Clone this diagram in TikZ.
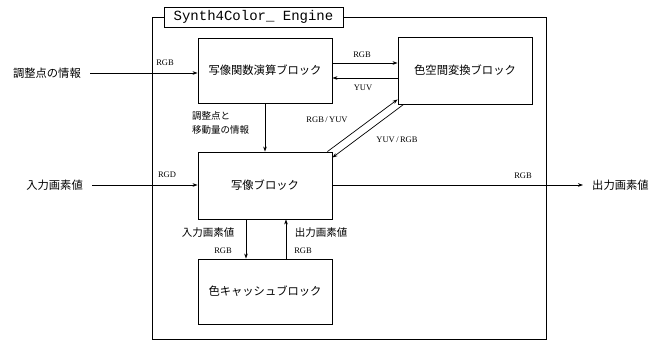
\documentclass[tikz,border=0pt]{standalone}
\usepackage{fontspec}
\setmainfont{Liberation Serif}
\setmonofont{Liberation Mono}
\newfontfamily\jp{Noto Sans CJK JP}
\usepackage{tikz}
\usetikzlibrary{arrows.meta, positioning, calc}

\begin{document}
\begin{tikzpicture}[x=1pt, y=-1pt, >={Stealth[length=5pt,width=3.6pt]},
    block/.style={draw, line width=0.9pt, rectangle, minimum width=134pt, font=\jp\fontsize{11.3}{12}\selectfont},
    jtext/.style={inner sep=0pt, font=\jp\fontsize{11.3}{12}\selectfont},
    sig/.style={inner sep=0pt, font=\fontsize{8.5}{9}\selectfont},
    flow/.style={->, line width=0.7pt}]
    \useasboundingbox (0,0) rectangle (651,341);

    % Engine frame
    \node[draw, line width=0.8pt, minimum width=394pt, minimum height=322pt, inner sep=0pt] (engine) at (349,178) {};
    \node[draw, line width=0.8pt, fill=white, minimum width=179pt, minimum height=20pt, inner sep=0pt,
          font=\ttfamily\fontsize{14}{16}\selectfont] (title) at (253.5,17) {Synth4Color\_ Engine};

    % Blocks
    \node[block, minimum height=65pt] (mapfunc) at (265,70.5) {写像関数演算ブロック};
    \node[block, minimum height=67pt] (colconv) at (465,70.5) {色空間変換ブロック};
    \node[block, minimum height=67pt] (mapping) at (265,185.5) {写像ブロック};
    \node[block, minimum height=65pt] (cache) at (265,291.5) {色キャッシュブロック};

    % Outside texts
    \node[jtext, anchor=east] (ctrlinfo) at (81,73) {調整点の情報};
    \node[jtext, anchor=east] (pixin) at (83,185) {入力画素値};
    \node[jtext, anchor=west] (pixout) at (592,185) {出力画素値};

    % Edges
    \draw[flow, shorten <=9pt] (ctrlinfo.east) -- (ctrlinfo.east -| mapfunc.west);
    \draw[flow, shorten <=9pt] (pixin.east) -- (pixin.east -| mapping.west);
    \draw[flow, shorten >=9pt] (mapping.east |- pixout.west) -- (pixout.west);
    \draw[flow] ([yshift=7.5pt]mapfunc.east) -- ([yshift=7.5pt]colconv.west);
    \draw[flow] ([yshift=-7.5pt]colconv.west) -- ([yshift=-7.5pt]mapfunc.east);
    \draw[flow] (mapfunc.south) -- (mapping.north);
    \draw[flow] ([xshift=-5pt]mapping.north east) -- ([yshift=5pt]colconv.south west);
    \draw[flow] ([xshift=6pt]colconv.south west) -- ([yshift=-6pt]mapping.north east);
    \draw[flow] ([xshift=-19pt]mapping.south) -- ([xshift=-19pt]cache.north);
    \draw[flow] ([xshift=21pt]cache.north) -- ([xshift=21pt]mapping.south);

    % Signal labels
    \node[sig] (sigA) at (165,63) {RGB};
    \node[sig] (sigB) at (167,175) {RGD};
    \node[sig] (sigC) at (362,55) {RGB};
    \node[sig] (sigD) at (363,88) {YUV};
    \node[sig] (sigE) at (327,120) {RGB\,/\,YUV};
    \node[sig] (sigF) at (397,140) {YUV\,/\,RGB};
    \node[sig] (sigG) at (523,176) {RGB};
    \node[sig] (sigH) at (223,251) {RGB};
    \node[sig] (sigI) at (303,251) {RGB};

    \node[jtext, anchor=west, align=left, font=\jp\fontsize{9.5}{14}\selectfont] (ctrlmove) at (192,123) {調整点と\\移動量の情報};
    \node[jtext, font=\jp\fontsize{10.5}{12}\selectfont] (cachein) at (208,233) {入力画素値};
    \node[jtext, font=\jp\fontsize{10.5}{12}\selectfont] (cacheout) at (321,233) {出力画素値};
\end{tikzpicture}
\end{document}
